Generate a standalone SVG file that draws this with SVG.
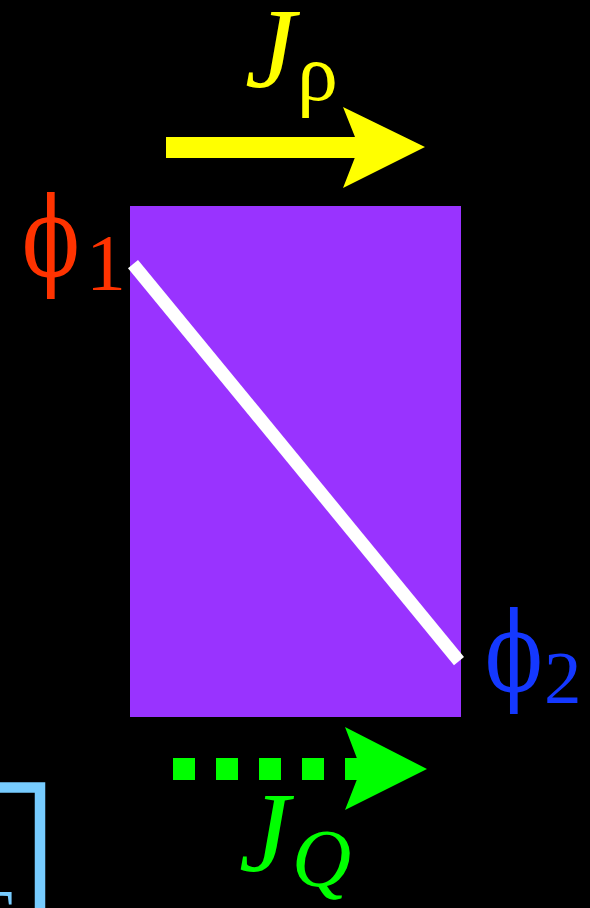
<svg xmlns="http://www.w3.org/2000/svg" width="590" height="908" viewBox="0 0 590 908">
<style>
.s{font-family:"Liberation Serif","Times New Roman",serif}
.i{font-style:italic}
.p{font-family:"DejaVu Serif","Liberation Serif",serif}
</style>
<rect x="0" y="0" width="590" height="908" fill="#000"/>
<g id="box">
<rect x="130" y="206" width="331" height="511" fill="#9933FF"/>
<line x1="133" y1="264" x2="459" y2="661" stroke="#FFFFFF" stroke-width="13"/>
</g>
<g id="connectors">
<g id="jrho-arrow" fill="#FFFF00">
<rect x="166" y="137" width="194" height="21"/>
<polygon points="343,107 425,147 343,188 359,147"/>
</g>
<g id="jq-arrow" fill="#00FF00">
<rect x="173" y="758" width="22" height="22"/>
<rect x="216" y="758" width="22" height="22"/>
<rect x="259" y="758" width="22" height="22"/>
<rect x="302" y="758" width="22" height="22"/>
<rect x="345" y="758" width="20" height="22"/>
<polygon points="345,727 427,769 345,810 361,769"/>
</g>
</g>
<g id="label-jrho" fill="#FFFF00">
<text x="245" y="87" font-size="114" class="s i">J</text>
<text x="297" y="100" font-size="82" class="s">ρ</text>
</g>
<g id="label-jq" fill="#00FF00">
<text x="239" y="871" font-size="114" class="s i">J</text>
<text x="292" y="886" font-size="82" class="s i">Q</text>
</g>
<g id="label-phi1" fill="#FF3300">
<text transform="translate(22,276) scale(0.77,1)" font-size="110" class="p">ϕ</text>
<text x="86" y="290" font-size="80" class="s">1</text>
</g>
<g id="label-phi2" fill="#1438FF">
<text transform="translate(485,691) scale(0.77,1)" font-size="110" class="p">ϕ</text>
<text x="544" y="703" font-size="75" class="s">2</text>
</g>
<g id="cyan-box">
<path d="M -10 787.5 H 40 V 920" fill="none" stroke="#77CCFF" stroke-width="10.5"/>
<text x="-36" y="945" font-size="80" fill="#77CCFF" class="s">T</text>
</g>
</svg>
